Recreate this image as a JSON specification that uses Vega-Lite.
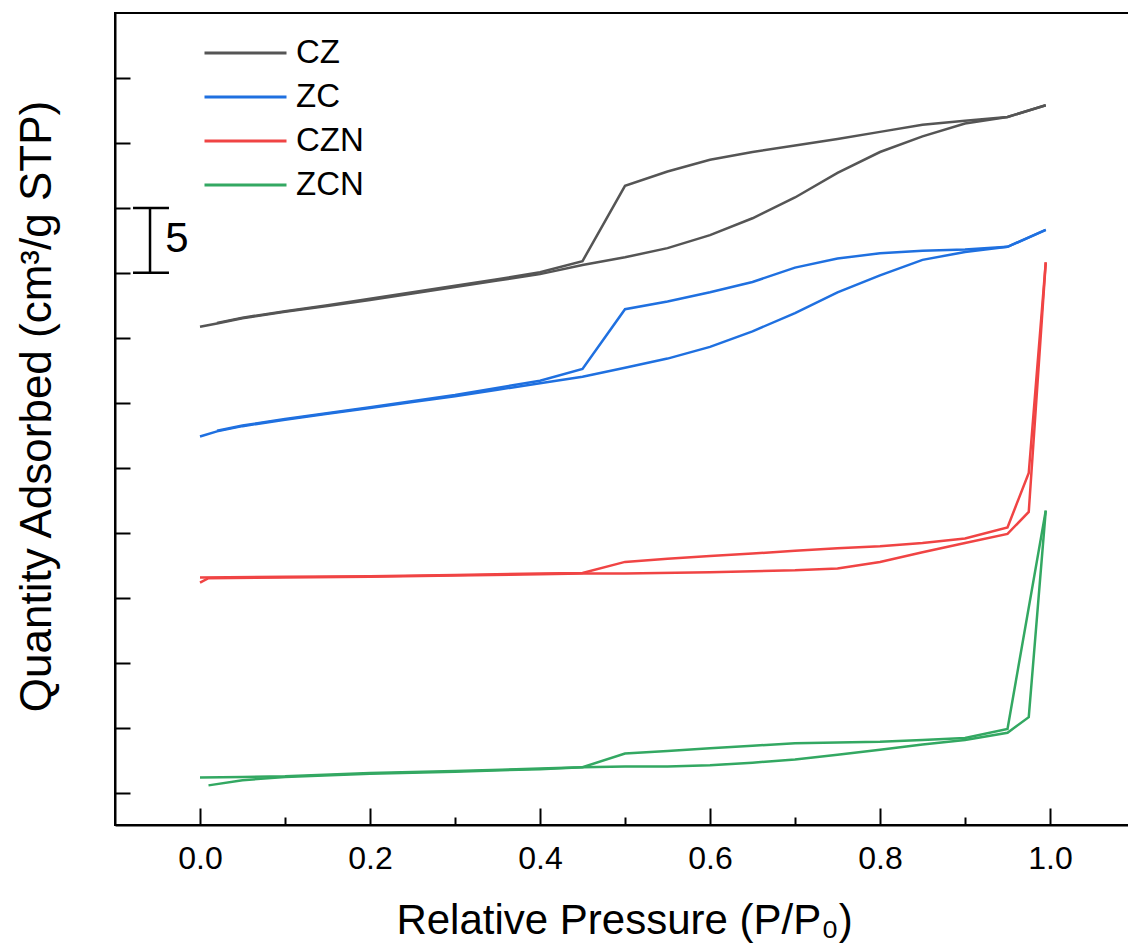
{
  "$schema": "https://vega.github.io/schema/vega-lite/v6.json",
  "width": 1020,
  "height": 812,
  "autosize": {"type": "none"},
  "padding": {"left": 115, "top": 13, "right": -7, "bottom": 122},
  "background": "white",
  "config": {"view": {"stroke": "black", "strokeWidth": 2}, "font": "Liberation Sans"},
  "datasets": {
    "iso": [
      {"sample": "CZ", "branch": "ads", "P": 0, "Q": 35.85},
      {"sample": "CZ", "branch": "ads", "P": 0.02, "Q": 36.1},
      {"sample": "CZ", "branch": "ads", "P": 0.05, "Q": 36.5},
      {"sample": "CZ", "branch": "ads", "P": 0.1, "Q": 37.0},
      {"sample": "CZ", "branch": "ads", "P": 0.15, "Q": 37.45},
      {"sample": "CZ", "branch": "ads", "P": 0.2, "Q": 37.9},
      {"sample": "CZ", "branch": "ads", "P": 0.25, "Q": 38.4},
      {"sample": "CZ", "branch": "ads", "P": 0.3, "Q": 38.9},
      {"sample": "CZ", "branch": "ads", "P": 0.35, "Q": 39.4},
      {"sample": "CZ", "branch": "ads", "P": 0.4, "Q": 39.9},
      {"sample": "CZ", "branch": "ads", "P": 0.45, "Q": 40.6},
      {"sample": "CZ", "branch": "ads", "P": 0.5, "Q": 41.2},
      {"sample": "CZ", "branch": "ads", "P": 0.55, "Q": 41.9},
      {"sample": "CZ", "branch": "ads", "P": 0.6, "Q": 42.9},
      {"sample": "CZ", "branch": "ads", "P": 0.65, "Q": 44.2},
      {"sample": "CZ", "branch": "ads", "P": 0.7, "Q": 45.8},
      {"sample": "CZ", "branch": "ads", "P": 0.75, "Q": 47.7},
      {"sample": "CZ", "branch": "ads", "P": 0.8, "Q": 49.3},
      {"sample": "CZ", "branch": "ads", "P": 0.85, "Q": 50.5},
      {"sample": "CZ", "branch": "ads", "P": 0.9, "Q": 51.5},
      {"sample": "CZ", "branch": "ads", "P": 0.95, "Q": 52.0},
      {"sample": "CZ", "branch": "ads", "P": 0.995, "Q": 52.9},
      {"sample": "CZ", "branch": "des", "P": 0.995, "Q": 52.9},
      {"sample": "CZ", "branch": "des", "P": 0.95, "Q": 52.0},
      {"sample": "CZ", "branch": "des", "P": 0.9, "Q": 51.7},
      {"sample": "CZ", "branch": "des", "P": 0.85, "Q": 51.4},
      {"sample": "CZ", "branch": "des", "P": 0.8, "Q": 50.85},
      {"sample": "CZ", "branch": "des", "P": 0.75, "Q": 50.3},
      {"sample": "CZ", "branch": "des", "P": 0.7, "Q": 49.8},
      {"sample": "CZ", "branch": "des", "P": 0.65, "Q": 49.3},
      {"sample": "CZ", "branch": "des", "P": 0.6, "Q": 48.7},
      {"sample": "CZ", "branch": "des", "P": 0.55, "Q": 47.8},
      {"sample": "CZ", "branch": "des", "P": 0.5, "Q": 46.7},
      {"sample": "CZ", "branch": "des", "P": 0.45, "Q": 40.9},
      {"sample": "CZ", "branch": "des", "P": 0.4, "Q": 40.05},
      {"sample": "CZ", "branch": "des", "P": 0.35, "Q": 39.5},
      {"sample": "CZ", "branch": "des", "P": 0.3, "Q": 39.0},
      {"sample": "CZ", "branch": "des", "P": 0.25, "Q": 38.5},
      {"sample": "CZ", "branch": "des", "P": 0.2, "Q": 38.0},
      {"sample": "CZ", "branch": "des", "P": 0.15, "Q": 37.5},
      {"sample": "CZ", "branch": "des", "P": 0.1, "Q": 37.05},
      {"sample": "CZ", "branch": "des", "P": 0.05, "Q": 36.55},
      {"sample": "CZ", "branch": "des", "P": 0.02, "Q": 36.15},

      {"sample": "ZC", "branch": "ads", "P": 0, "Q": 27.4},
      {"sample": "ZC", "branch": "ads", "P": 0.02, "Q": 27.8},
      {"sample": "ZC", "branch": "ads", "P": 0.05, "Q": 28.2},
      {"sample": "ZC", "branch": "ads", "P": 0.1, "Q": 28.7},
      {"sample": "ZC", "branch": "ads", "P": 0.15, "Q": 29.15},
      {"sample": "ZC", "branch": "ads", "P": 0.2, "Q": 29.6},
      {"sample": "ZC", "branch": "ads", "P": 0.25, "Q": 30.05},
      {"sample": "ZC", "branch": "ads", "P": 0.3, "Q": 30.5},
      {"sample": "ZC", "branch": "ads", "P": 0.35, "Q": 31.0},
      {"sample": "ZC", "branch": "ads", "P": 0.4, "Q": 31.5},
      {"sample": "ZC", "branch": "ads", "P": 0.45, "Q": 32.0},
      {"sample": "ZC", "branch": "ads", "P": 0.5, "Q": 32.7},
      {"sample": "ZC", "branch": "ads", "P": 0.55, "Q": 33.4},
      {"sample": "ZC", "branch": "ads", "P": 0.6, "Q": 34.3},
      {"sample": "ZC", "branch": "ads", "P": 0.65, "Q": 35.5},
      {"sample": "ZC", "branch": "ads", "P": 0.7, "Q": 36.9},
      {"sample": "ZC", "branch": "ads", "P": 0.75, "Q": 38.5},
      {"sample": "ZC", "branch": "ads", "P": 0.8, "Q": 39.8},
      {"sample": "ZC", "branch": "ads", "P": 0.85, "Q": 41.0},
      {"sample": "ZC", "branch": "ads", "P": 0.9, "Q": 41.6},
      {"sample": "ZC", "branch": "ads", "P": 0.95, "Q": 42.0},
      {"sample": "ZC", "branch": "ads", "P": 0.995, "Q": 43.3},
      {"sample": "ZC", "branch": "des", "P": 0.995, "Q": 43.3},
      {"sample": "ZC", "branch": "des", "P": 0.95, "Q": 42.0},
      {"sample": "ZC", "branch": "des", "P": 0.9, "Q": 41.8},
      {"sample": "ZC", "branch": "des", "P": 0.85, "Q": 41.7},
      {"sample": "ZC", "branch": "des", "P": 0.8, "Q": 41.5},
      {"sample": "ZC", "branch": "des", "P": 0.75, "Q": 41.1},
      {"sample": "ZC", "branch": "des", "P": 0.7, "Q": 40.4},
      {"sample": "ZC", "branch": "des", "P": 0.65, "Q": 39.3},
      {"sample": "ZC", "branch": "des", "P": 0.6, "Q": 38.5},
      {"sample": "ZC", "branch": "des", "P": 0.55, "Q": 37.8},
      {"sample": "ZC", "branch": "des", "P": 0.5, "Q": 37.2},
      {"sample": "ZC", "branch": "des", "P": 0.45, "Q": 32.6},
      {"sample": "ZC", "branch": "des", "P": 0.4, "Q": 31.7},
      {"sample": "ZC", "branch": "des", "P": 0.3, "Q": 30.6},
      {"sample": "ZC", "branch": "des", "P": 0.2, "Q": 29.65},
      {"sample": "ZC", "branch": "des", "P": 0.1, "Q": 28.75},
      {"sample": "ZC", "branch": "des", "P": 0.05, "Q": 28.25},
      {"sample": "ZC", "branch": "des", "P": 0.02, "Q": 27.85},

      {"sample": "CZN", "branch": "ads", "P": 0, "Q": 16.15},
      {"sample": "CZN", "branch": "ads", "P": 0.01, "Q": 16.5},
      {"sample": "CZN", "branch": "ads", "P": 0.1, "Q": 16.55},
      {"sample": "CZN", "branch": "ads", "P": 0.2, "Q": 16.6},
      {"sample": "CZN", "branch": "ads", "P": 0.3, "Q": 16.7},
      {"sample": "CZN", "branch": "ads", "P": 0.4, "Q": 16.8},
      {"sample": "CZN", "branch": "ads", "P": 0.45, "Q": 16.85},
      {"sample": "CZN", "branch": "ads", "P": 0.5, "Q": 16.85},
      {"sample": "CZN", "branch": "ads", "P": 0.6, "Q": 16.95},
      {"sample": "CZN", "branch": "ads", "P": 0.7, "Q": 17.1},
      {"sample": "CZN", "branch": "ads", "P": 0.75, "Q": 17.25},
      {"sample": "CZN", "branch": "ads", "P": 0.8, "Q": 17.75},
      {"sample": "CZN", "branch": "ads", "P": 0.85, "Q": 18.5},
      {"sample": "CZN", "branch": "ads", "P": 0.9, "Q": 19.2},
      {"sample": "CZN", "branch": "ads", "P": 0.95, "Q": 19.9},
      {"sample": "CZN", "branch": "ads", "P": 0.975, "Q": 21.6},
      {"sample": "CZN", "branch": "ads", "P": 0.995, "Q": 40.8},
      {"sample": "CZN", "branch": "des", "P": 0.995, "Q": 40.8},
      {"sample": "CZN", "branch": "des", "P": 0.975, "Q": 24.6},
      {"sample": "CZN", "branch": "des", "P": 0.95, "Q": 20.4},
      {"sample": "CZN", "branch": "des", "P": 0.9, "Q": 19.55},
      {"sample": "CZN", "branch": "des", "P": 0.85, "Q": 19.2},
      {"sample": "CZN", "branch": "des", "P": 0.8, "Q": 18.95},
      {"sample": "CZN", "branch": "des", "P": 0.75, "Q": 18.8},
      {"sample": "CZN", "branch": "des", "P": 0.7, "Q": 18.6},
      {"sample": "CZN", "branch": "des", "P": 0.65, "Q": 18.4},
      {"sample": "CZN", "branch": "des", "P": 0.6, "Q": 18.2},
      {"sample": "CZN", "branch": "des", "P": 0.55, "Q": 18.0},
      {"sample": "CZN", "branch": "des", "P": 0.5, "Q": 17.75},
      {"sample": "CZN", "branch": "des", "P": 0.45, "Q": 16.9},
      {"sample": "CZN", "branch": "des", "P": 0.4, "Q": 16.85},
      {"sample": "CZN", "branch": "des", "P": 0.3, "Q": 16.75},
      {"sample": "CZN", "branch": "des", "P": 0.2, "Q": 16.65},
      {"sample": "CZN", "branch": "des", "P": 0.1, "Q": 16.6},
      {"sample": "CZN", "branch": "des", "P": 0, "Q": 16.55},

      {"sample": "ZCN", "branch": "ads", "P": 0.01, "Q": 0.55},
      {"sample": "ZCN", "branch": "ads", "P": 0.05, "Q": 0.95},
      {"sample": "ZCN", "branch": "ads", "P": 0.1, "Q": 1.2},
      {"sample": "ZCN", "branch": "ads", "P": 0.2, "Q": 1.45},
      {"sample": "ZCN", "branch": "ads", "P": 0.3, "Q": 1.6},
      {"sample": "ZCN", "branch": "ads", "P": 0.4, "Q": 1.8},
      {"sample": "ZCN", "branch": "ads", "P": 0.45, "Q": 1.95},
      {"sample": "ZCN", "branch": "ads", "P": 0.5, "Q": 2.0},
      {"sample": "ZCN", "branch": "ads", "P": 0.55, "Q": 2.0},
      {"sample": "ZCN", "branch": "ads", "P": 0.6, "Q": 2.1},
      {"sample": "ZCN", "branch": "ads", "P": 0.65, "Q": 2.3},
      {"sample": "ZCN", "branch": "ads", "P": 0.7, "Q": 2.55},
      {"sample": "ZCN", "branch": "ads", "P": 0.75, "Q": 2.9},
      {"sample": "ZCN", "branch": "ads", "P": 0.8, "Q": 3.3},
      {"sample": "ZCN", "branch": "ads", "P": 0.85, "Q": 3.7},
      {"sample": "ZCN", "branch": "ads", "P": 0.9, "Q": 4.05},
      {"sample": "ZCN", "branch": "ads", "P": 0.95, "Q": 4.6},
      {"sample": "ZCN", "branch": "ads", "P": 0.975, "Q": 5.8},
      {"sample": "ZCN", "branch": "ads", "P": 0.995, "Q": 21.7},
      {"sample": "ZCN", "branch": "des", "P": 0.995, "Q": 21.7},
      {"sample": "ZCN", "branch": "des", "P": 0.95, "Q": 4.9},
      {"sample": "ZCN", "branch": "des", "P": 0.9, "Q": 4.2},
      {"sample": "ZCN", "branch": "des", "P": 0.85, "Q": 4.05},
      {"sample": "ZCN", "branch": "des", "P": 0.8, "Q": 3.9},
      {"sample": "ZCN", "branch": "des", "P": 0.75, "Q": 3.85},
      {"sample": "ZCN", "branch": "des", "P": 0.7, "Q": 3.8},
      {"sample": "ZCN", "branch": "des", "P": 0.65, "Q": 3.6},
      {"sample": "ZCN", "branch": "des", "P": 0.6, "Q": 3.4},
      {"sample": "ZCN", "branch": "des", "P": 0.55, "Q": 3.2},
      {"sample": "ZCN", "branch": "des", "P": 0.5, "Q": 3.0},
      {"sample": "ZCN", "branch": "des", "P": 0.45, "Q": 1.95},
      {"sample": "ZCN", "branch": "des", "P": 0.4, "Q": 1.85},
      {"sample": "ZCN", "branch": "des", "P": 0.3, "Q": 1.65},
      {"sample": "ZCN", "branch": "des", "P": 0.2, "Q": 1.5},
      {"sample": "ZCN", "branch": "des", "P": 0.1, "Q": 1.25},
      {"sample": "ZCN", "branch": "des", "P": 0.05, "Q": 1.2},
      {"sample": "ZCN", "branch": "des", "P": 0, "Q": 1.15}
    ],
    "bar": [
      {"part": "stem", "x1": -0.0588, "x2": -0.0588, "y1": 40, "y2": 45},
      {"part": "capLow", "x1": -0.0788, "x2": -0.0365, "y1": 40, "y2": 40},
      {"part": "capHigh", "x1": -0.0788, "x2": -0.0365, "y1": 45, "y2": 45}
    ],
    "barlabel": [
      {"label": "5", "x": -0.041, "y": 42.6}
    ]
  },
  "layer": [
    {
      "data": {"name": "iso"},
      "mark": {"type": "line", "strokeWidth": 2.5, "clip": true},
      "encoding": {
        "x": {
          "field": "P", "type": "quantitative",
          "scale": {"domain": [-0.1, 1.1], "nice": false, "zero": false},
          "axis": {
            "title": "Relative Pressure (P/P₀)",
            "values": [0, 0.1, 0.2, 0.3, 0.4, 0.5, 0.6, 0.7, 0.8, 0.9, 1.0],
            "labelExpr": "round(datum.value*10) % 2 === 0 ? format(datum.value, '.1f') : ''",
            "tickSize": {"condition": {"test": "round(datum.value*10) % 2 === 0", "value": -17}, "value": -8},
            "tickWidth": 2, "tickColor": "black",
            "domainColor": "black", "domainWidth": 2,
            "grid": false,
            "labelFont": "Liberation Sans", "labelFontSize": 32, "labelColor": "black",
            "labelBaseline": "alphabetic", "labelPadding": 60,
            "labelFlush": false, "labelOverlap": false,
            "titleFont": "Liberation Sans", "titleFontSize": 42, "titleFontWeight": "normal", "titleColor": "black",
            "titleX": 509, "titleY": 108, "titleBaseline": "alphabetic"
          }
        },
        "y": {
          "field": "Q", "type": "quantitative",
          "scale": {"domain": [-2.5, 60], "nice": false, "zero": false},
          "axis": {
            "title": "Quantity Adsorbed (cm³/g STP)",
            "values": [0, 2.5, 5, 7.5, 10, 12.5, 15, 17.5, 20, 22.5, 25, 27.5, 30, 32.5, 35, 37.5, 40, 42.5, 45, 47.5, 50, 52.5, 55, 57.5],
            "labels": false,
            "tickSize": {"condition": {"test": "datum.value % 5 === 0", "value": -15}, "value": -8},
            "tickWidth": 2, "tickColor": "black",
            "domainColor": "black", "domainWidth": 2,
            "grid": false,
            "titleFont": "Liberation Sans", "titleFontSize": 44, "titleFontWeight": "normal", "titleColor": "black",
            "titleX": -65, "titleY": 393, "titleBaseline": "alphabetic", "titleAngle": -90
          }
        },
        "color": {
          "field": "sample", "type": "nominal",
          "scale": {"domain": ["CZ", "ZC", "CZN", "ZCN"], "range": ["#555555", "#1f70e0", "#f04444", "#33a862"]},
          "legend": {
            "title": null, "orient": "none", "legendX": 88, "legendY": 20,
            "symbolType": "stroke", "symbolSize": 6724, "symbolStrokeWidth": 3,
            "clipHeight": 40,
            "labelFont": "Liberation Sans", "labelFontSize": 33, "labelColor": "black",
            "labelOffset": 8, "rowPadding": 4
          }
        },
        "detail": {"field": "branch", "type": "nominal"}
      }
    },
    {
      "data": {"name": "bar"},
      "mark": {"type": "rule", "strokeWidth": 2.5, "color": "black"},
      "encoding": {
        "x": {"field": "x1", "type": "quantitative"},
        "x2": {"field": "x2"},
        "y": {"field": "y1", "type": "quantitative"},
        "y2": {"field": "y2"}
      }
    },
    {
      "data": {"name": "barlabel"},
      "mark": {"type": "text", "font": "Liberation Sans", "fontSize": 42, "align": "left", "baseline": "middle", "color": "black"},
      "encoding": {
        "x": {"field": "x", "type": "quantitative"},
        "y": {"field": "y", "type": "quantitative"},
        "text": {"field": "label"}
      }
    }
  ]
}
